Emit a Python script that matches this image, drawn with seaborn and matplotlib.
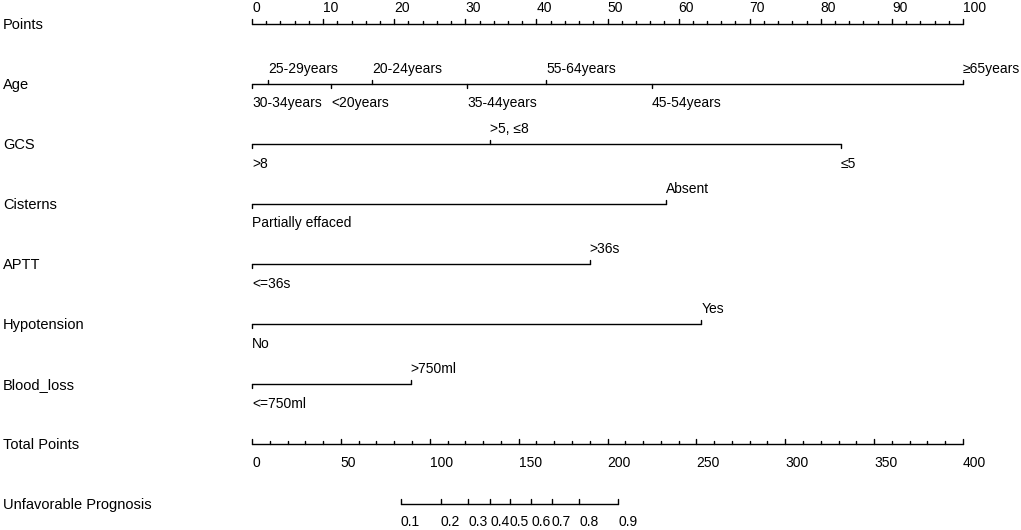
import numpy as np
import pandas as pd
import seaborn as sns
import matplotlib
matplotlib.use('Agg')
import matplotlib.pyplot as plt

sns.set_theme(style='white')
plt.rcParams['font.family'] = ['Liberation Sans', 'DejaVu Sans']
plt.rcParams['text.color'] = 'black'

# points scale
points_major = [0, 10, 20, 30, 40, 50, 60, 70, 80, 90, 100]
points_minor = [2, 4, 6, 8, 12, 14, 16, 18, 22, 24, 26, 28, 32, 34, 36, 38,
                42, 44, 46, 48, 52, 54, 56, 58, 62, 64, 66, 68, 72, 74, 76, 78,
                82, 84, 86, 88, 92, 94, 96, 98]

# predictors (level label, points)
age_labels = ['30-34years', '25-29years', '<20years', '20-24years',
              '35-44years', '55-64years', '45-54years', '≥65years']
age_points = [0, 2.3, 11.1, 16.9, 30.3, 41.4, 56.2, 100]
gcs_labels = ['>8', '>5, ≤8', '≤5']
gcs_points = [0, 33.5, 82.8]
cis_labels = ['Partially effaced', 'Absent']
cis_points = [0, 58.2]
aptt_labels = ['<=36s', '>36s']
aptt_points = [0, 47.5]
hypo_labels = ['No', 'Yes']
hypo_points = [0, 63.2]
blood_labels = ['<=750ml', '>750ml']
blood_points = [0, 22.3]

variables = ['Age', 'GCS', 'Cisterns', 'APTT', 'Hypotension', 'Blood_loss']
levels = [age_labels, gcs_labels, cis_labels, aptt_labels, hypo_labels, blood_labels]
level_points = [age_points, gcs_points, cis_points, aptt_points, hypo_points, blood_points]

# total points scale
total_major = [0, 50, 100, 150, 200, 250, 300, 350, 400]
total_minor = [t for t in range(0, 401, 10) if t % 50 != 0]

# unfavorable prognosis scale
prob_labels = ['0.1', '0.2', '0.3', '0.4', '0.5', '0.6', '0.7', '0.8', '0.9']
prob_total = [83.8, 106.3, 121.7, 133.9, 145.1, 157.0, 168.6, 184.0, 206.1]

px_per_pt = 7.11
fig = plt.figure(figsize=(10.21, 5.30), dpi=100)
ax = fig.add_axes([0, 0, 1, 1])
xmin = -252 / px_per_pt
ax.set_xlim(xmin, xmin + 1021 / px_per_pt)
ax.set_ylim(530, 0)
ax.axis('off')

lw = 1.0
tick_fs = 10
row_fs = 10.5
row_y = [23.5 + 60 * i for i in range(9)]


def hline(x0, x1, y):
    seg = pd.DataFrame({'x': [x0, x1], 'y': [y, y]})
    sns.lineplot(data=seg, x='x', y='y', ax=ax, color='black', lw=lw,
                 estimator=None, sort=False)


def vtick(x, y, length):
    ax.plot([x, x], [y, y - length], color='black', lw=lw)


def label(x, y, text, fs=tick_fs):
    ax.text(x, y, text, fontsize=fs, ha='left', va='center', color='black')


def row_label(text, y):
    label(3 / px_per_pt + xmin, y + 1.5, text, row_fs)


# Points
y = row_y[0]
row_label('Points', y)
hline(0, 100, y)
for p in points_major:
    vtick(p, y, 5)
    label(p, y - 15, str(p))
for p in points_minor:
    vtick(p, y, 2.5)

# predictors: levels alternate below / above the line, in order of points
for i, (name, labs, pts) in enumerate(zip(variables, levels, level_points)):
    y = row_y[i + 1]
    row_label(name, y)
    hline(min(pts), max(pts), y)
    order = np.argsort(pts)
    for k, j in enumerate(order):
        if k % 2 == 0:
            vtick(pts[j], y, -4)
            label(pts[j], y + 20, labs[j])
        else:
            vtick(pts[j], y, 4)
            label(pts[j], y - 14.5, labs[j])

# Total points
y = row_y[7]
row_label('Total Points', y)
hline(0, 100, y)
for t in total_major:
    vtick(t / 4, y, 4.5)
    label(t / 4, y + 19.5, str(t))
for t in total_minor:
    vtick(t / 4, y, 2.5)

# Unfavorable prognosis
y = row_y[8]
row_label('Unfavorable Prognosis', y)
hline(prob_total[0] / 4, prob_total[-1] / 4, y)
for lab, t in zip(prob_labels, prob_total):
    vtick(t / 4, y, 4.5)
    label(t / 4, y + 18.5, lab)

fig.savefig('out.png', dpi=100)
